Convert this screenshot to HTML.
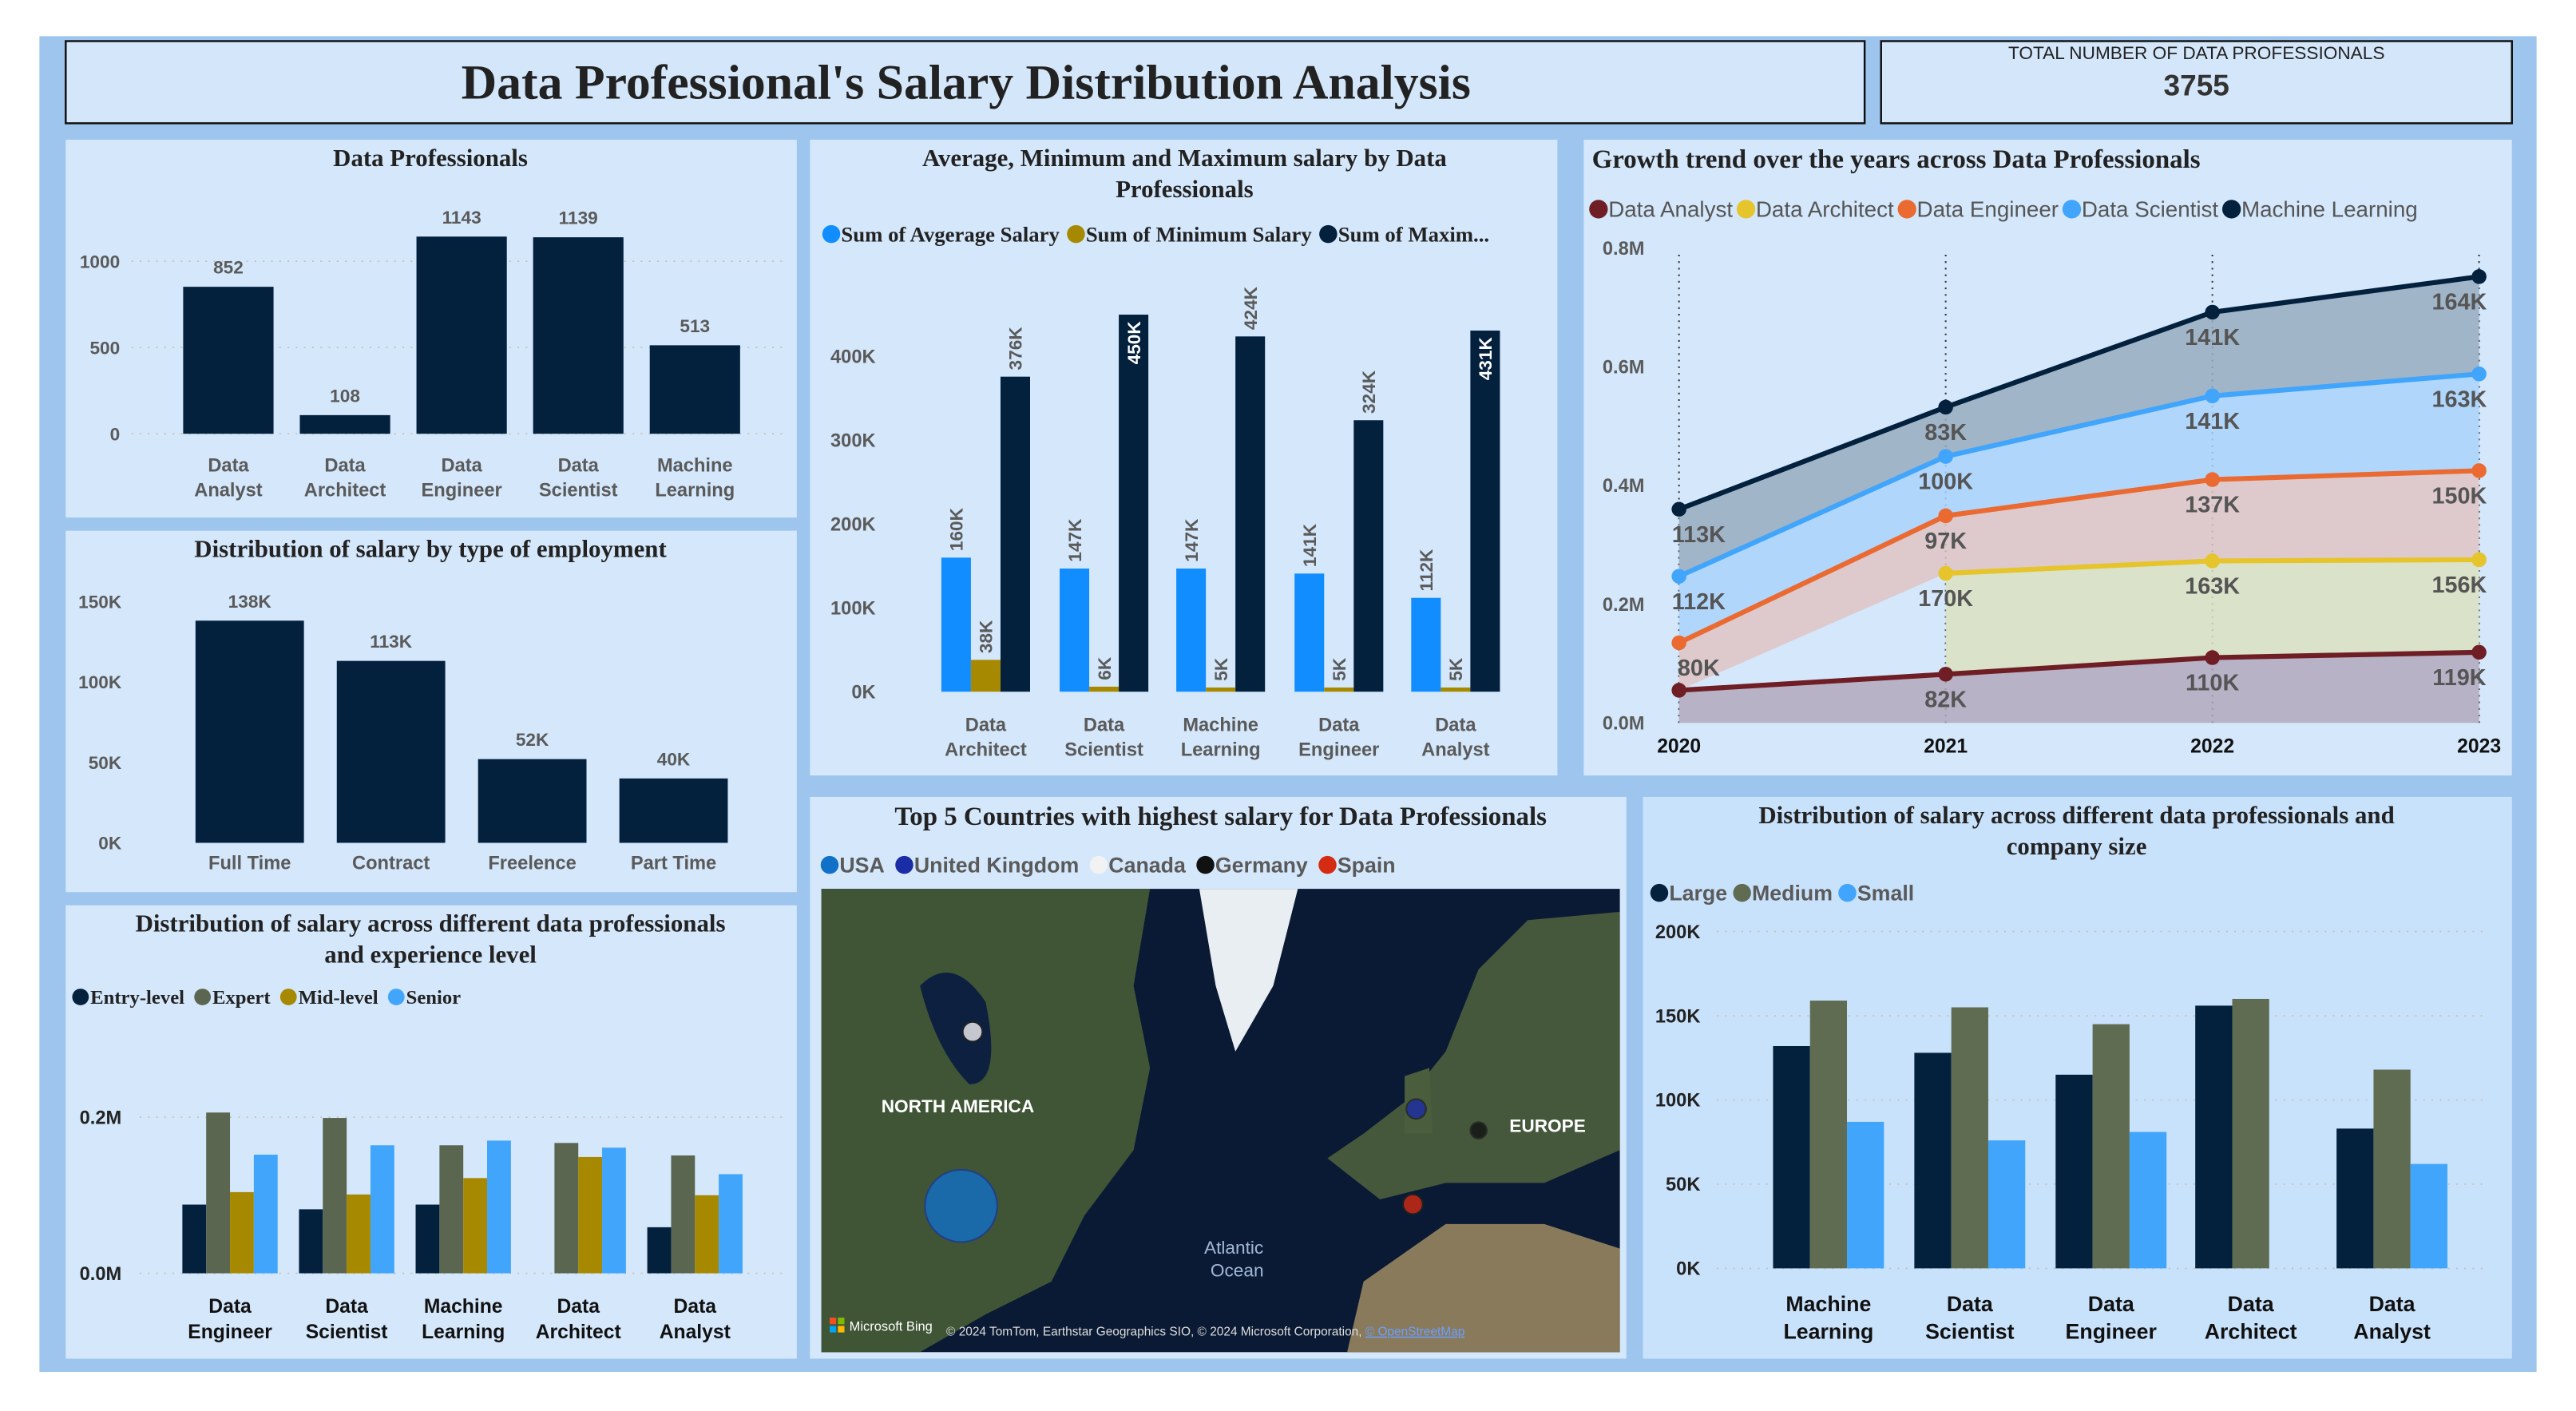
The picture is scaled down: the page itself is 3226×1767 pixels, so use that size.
<!DOCTYPE html>
<html><head><meta charset="utf-8"><style>
html,body{margin:0;padding:0;background:#fff;}
svg{display:block;}
.t{font-family:"Liberation Serif",serif;font-weight:bold;fill:#222;}
.a{font-family:"Liberation Sans",sans-serif;font-weight:bold;fill:#5a5a5a;}
.n{font-family:"Liberation Sans",sans-serif;fill:#555;}
</style></head><body>
<svg id="s" width="3226" height="1767" viewBox="0 0 1568 858.8" xmlns="http://www.w3.org/2000/svg">
<rect x="24" y="22" width="1520" height="813" fill="#9dc5ee"/>
<rect x="40" y="25" width="1095" height="50" fill="#d4e6fa" stroke="#111" stroke-width="1.2"/>
<text x="588" y="60" text-anchor="middle" class="t" font-size="30" fill="#000">Data Professional's Salary Distribution Analysis</text>
<rect x="1145" y="25" width="384" height="50" fill="#d4e6fa" stroke="#111" stroke-width="1.2"/>
<text x="1337" y="36" text-anchor="middle" font-family="Liberation Sans,sans-serif" font-size="11" fill="#222">TOTAL NUMBER OF DATA PROFESSIONALS</text>
<text x="1337" y="58" text-anchor="middle" font-family="Liberation Sans,sans-serif" font-weight="bold" font-size="18" fill="#333">3755</text>

<rect x="40" y="85" width="445" height="230" fill="#d4e7fb"/>
<rect x="40" y="323" width="445" height="220" fill="#d4e7fb"/>
<rect x="40" y="551" width="445" height="276" fill="#d4e7fb"/>
<rect x="493" y="85" width="455" height="387" fill="#d4e7fb"/>
<rect x="964" y="85" width="565" height="387" fill="#d4e7fb"/>
<rect x="493" y="485" width="497" height="342" fill="#d4e7fb"/>
<rect x="1000" y="485" width="529" height="342" fill="#c9e2fb"/>

<text x="262" y="101" text-anchor="middle" class="t" font-size="15">Data Professionals</text>
<text x="262" y="339" text-anchor="middle" class="t" font-size="15">Distribution of salary by type of employment</text>
<text x="262" y="567" text-anchor="middle" class="t" font-size="15">Distribution of salary across different data professionals</text>
<text x="262" y="586" text-anchor="middle" class="t" font-size="15">and experience level</text>
<text x="721" y="101" text-anchor="middle" class="t" font-size="15">Average, Minimum and Maximum salary by Data</text>
<text x="721" y="120" text-anchor="middle" class="t" font-size="15">Professionals</text>
<text x="969" y="102" class="t" font-size="16">Growth trend over the years across Data Professionals</text>
<text x="743" y="502" text-anchor="middle" class="t" font-size="16">Top 5 Countries with highest salary for Data Professionals</text>
<text x="1264" y="501" text-anchor="middle" class="t" font-size="15">Distribution of salary across different data professionals and</text>
<text x="1264" y="520" text-anchor="middle" class="t" font-size="15">company size</text>

<g id="map">
<rect x="500" y="541" width="486" height="282" fill="#0b1a34"/>
<path d="M500 541 L700 541 L690 600 L700 650 L690 700 L660 740 L640 780 L600 800 L560 823 L500 823 Z" fill="#3f5535"/>
<path d="M560 600 Q580 580 600 610 Q610 660 590 660 Q570 640 560 600Z" fill="#0e2040"/>
<path d="M730 541 L790 541 L775 600 L752 640 L740 600 Z" fill="#e9eef2"/>
<path d="M808 705 L830 690 L856 670 L880 640 L900 590 L930 560 L986 555 L986 700 L940 720 L880 720 L840 730 Z" fill="#46583c"/>
<path d="M830 780 L880 745 L940 745 L986 760 L986 823 L820 823 Z" fill="#8a7a5c"/>
<path d="M855 655 L870 650 L872 690 L855 690 Z" fill="#4a5e3e"/>
<text x="583" y="677" text-anchor="middle" font-family="Liberation Sans,sans-serif" font-weight="bold" font-size="11" fill="#fff">NORTH AMERICA</text>
<text x="942" y="689" text-anchor="middle" font-family="Liberation Sans,sans-serif" font-weight="bold" font-size="11" fill="#fff">EUROPE</text>
<text x="751" y="763" text-anchor="middle" font-family="Liberation Sans,sans-serif" font-size="11" fill="#9fb8d6">Atlantic</text>
<text x="753" y="777" text-anchor="middle" font-family="Liberation Sans,sans-serif" font-size="11" fill="#9fb8d6">Ocean</text>
<rect x="505" y="802" width="4" height="4" fill="#f25022"/>
<rect x="510" y="802" width="4" height="4" fill="#7fba00"/>
<rect x="505" y="807" width="4" height="4" fill="#00a4ef"/>
<rect x="510" y="807" width="4" height="4" fill="#ffb900"/>
<text x="517" y="810" font-family="Liberation Sans,sans-serif" font-size="8" fill="#fff">Microsoft Bing</text>
<text x="576" y="813" font-family="Liberation Sans,sans-serif" font-size="7.5" fill="#ddd">© 2024 TomTom, Earthstar Geographics SIO, © 2024 Microsoft Corporation, <tspan fill="#6aa0ff" text-decoration="underline">© OpenStreetMap</tspan></text>
</g>
<g id="g"></g>
</svg>
<script>
// ---- chart 1
const c1Cats=["Data|Analyst","Data|Architect","Data|Engineer","Data|Scientist","Machine|Learning"];
const c1Vals=[852,108,1143,1139,513];
const c1Ticks=[0,500,1000];
// ---- chart 2
const c2Cats=["Full Time","Contract","Freelence","Part Time"];
const c2Vals=[138,113,52,40];
const c2Ticks=[0,50,100,150];
// ---- chart 3
const c3Cats=["Data|Engineer","Data|Scientist","Machine|Learning","Data|Architect","Data|Analyst"];
const c3Series=["Entry-level","Expert","Mid-level","Senior"];
const c3Entry=[0.088,0.082,0.088,0,0.059];
const c3Expert=[0.206,0.199,0.164,0.167,0.151];
const c3Mid=[0.104,0.101,0.122,0.149,0.100];
const c3Senior=[0.152,0.164,0.170,0.161,0.127];
const c3Ticks=[0,0.2];
// ---- chart 4
const c4Cats=["Data|Architect","Data|Scientist","Machine|Learning","Data|Engineer","Data|Analyst"];
const c4Series=["Sum of Avgerage Salary","Sum of Minimum Salary","Sum of Maxim..."];
const c4Avg=[160,147,147,141,112];
const c4Min=[38,6,5,5,5];
const c4Max=[376,450,424,324,431];
const c4Ticks=[0,100,200,300,400];
// ---- chart 5
const c5Years=["2020","2021","2022","2023"];
const c5Series=["Data Analyst","Data Architect","Data Engineer","Data Scientist","Machine Learning"];
const c5Analyst=[55,82,110,119];
const c5Architect=[null,170,163,156];
const c5Engineer=[80,97,137,150];
const c5Scientist=[112,100,141,163];
const c5ML=[113,83,141,164];
const c5Ticks=[0,0.2,0.4,0.6,0.8];
// ---- map
const mapCountries=["USA","United Kingdom","Canada","Germany","Spain"];
// ---- chart 7
const c7Cats=["Machine|Learning","Data|Scientist","Data|Engineer","Data|Architect","Data|Analyst"];
const c7Series=["Large","Medium","Small"];
const c7Large=[132,128,115,156,83];
const c7Medium=[159,155,145,160,118];
const c7Small=[87,76,81,0,62];
const c7Ticks=[0,50,100,150,200];

const NS="http://www.w3.org/2000/svg";
const G=document.getElementById('g');
function el(tag,attrs,parent){const e=document.createElementNS(NS,tag);for(const k in attrs)e.setAttribute(k,attrs[k]);(parent||G).appendChild(e);return e;}
function txt(x,y,s,size,cls,anchor,fill){const e=el('text',{x:x,y:y,'font-size':size,'class':cls,'text-anchor':anchor||'middle'});if(fill)e.style.fill=fill;e.textContent=s;return e;}
function grid(x1,x2,y){const e=el('line',{x1:x1,x2:x2,y1:y,y2:y,stroke:'#c8c0b0','stroke-width':0.8,'stroke-dasharray':'1 4'});

}
function catLabel(x,y,c,size,fill){const p=c.split('|');p.forEach((s,i)=>{const t=txt(x,y+i*size*1.3,s,size,'a','middle',fill);

});}
function legend(x,y,items,colors,size,cls,gap){let cx=x;items.forEach((s,i)=>{const c=el('circle',{cx:cx+4,cy:y-size*0.35,r:size*0.42,fill:colors[i]});


const t=txt(cx+10,y,s,size,cls,'start');


cx+=10+t.getComputedTextLength()+gap;});}

// chart1
{const y0=264,k=(264-159)/1000,xs=[139,210,281,352,423],w=55;
c1Ticks.forEach(t=>{const y=y0-t*k;grid(80,480,y);const e=txt(73,y+4,String(t),11,'a','end');

});
c1Vals.forEach((v,i)=>{const r=el('rect',{x:xs[i]-w/2,y:y0-v*k,width:w,height:v*k,fill:'#03203d'});


const l=txt(xs[i],y0-v*k-8,String(v),11,'a');


catLabel(xs[i],287,c1Cats[i],11.5);});}

// chart2
{const y0=513,k=(513-366)/150,xs=[152,238,324,410],w=66;
c2Ticks.forEach(t=>{const y=y0-t*k;const e=txt(74,y+4,t+'K',11,'a','end');

});
c2Vals.forEach((v,i)=>{const r=el('rect',{x:xs[i]-w/2,y:y0-v*k,width:w,height:v*k,fill:'#03203d'});


const l=txt(xs[i],y0-v*k-8,v+'K',11,'a');


const c=txt(xs[i],529,c2Cats[i],11.5,'a');

});}

// chart3
{const y0=775,k=(775-680)/0.2,xs=[140,211,282,352,423],w=14.5;
const cols=['#03203d','#5a6650','#a68900','#41a5fb'];const ser=[c3Entry,c3Expert,c3Mid,c3Senior];
legend(45,611,c3Series,cols,12,'t',7);
c3Ticks.forEach(t=>{const y=y0-t*k;grid(85,480,y);const e=txt(74,y+4,t.toFixed(1)+'M',11.5,'a','end',"#222");

});
c3Cats.forEach((c,i)=>{ser.forEach((s,j)=>{const v=s[i];if(!v)return;const r=el('rect',{x:xs[i]-2*w+j*w,y:y0-v*k,width:w,height:v*k,fill:cols[j]});

});
catLabel(xs[i],799,c,12,'#111');});}

// chart4
{const y0=421,k=(421-217)/400,xs=[600,672,743,815,886],w=18;
const cols=['#118dff','#a68900','#03203d'];const ser=[c4Avg,c4Min,c4Max];
legend(502,147,c4Series,cols,13,'t',6);
c4Ticks.forEach(t=>{const y=y0-t*k;const e=txt(533,y+4,t+'K',11.5,'a','end');

});
c4Cats.forEach((c,i)=>{ser.forEach((s,j)=>{const v=s[i];const x=xs[i]-1.5*w+j*w;const r=el('rect',{x:x,y:y0-v*k,width:w,height:v*k,fill:cols[j]});


const inside=(j==2&&(v>=430));const ly=inside?y0-v*k+4:y0-v*k-4;
const t=el('text',{x:0,y:0,'font-size':11,'class':'a','text-anchor':inside?'end':'start',transform:'translate('+(x+w/2+4)+','+ly+') rotate(-90)'});
if(inside)t.style.fill='#fff';t.textContent=v+'K';

});
catLabel(xs[i],445,c,11.5);});}

// chart5
{const x0=1022,x1=1509,y0=440,k=(440-151)/800;const X=i=>x0+i*(x1-x0)/3;
const cols=['#6e1e24','#e6c42b','#ea6a31','#41a5fb','#03203d'];const fills=['#b3a8bd','#dbe0c0','#dfc4c3','#a9d2fb','#98acc0'];
const ser=[c5Analyst,c5Architect,c5Engineer,c5Scientist,c5ML];
legend(969,132,c5Series,cols,13.5,'n',4);
c5Ticks.forEach(t=>{const y=y0-t*1000*k;const e=txt(1001,y+4,t.toFixed(1)+'M',11.5,'a','end');

});
c5Years.forEach((yr,i)=>{const l=el('line',{x1:X(i),x2:X(i),y1:155,y2:y0,stroke:'#333','stroke-width':1,'stroke-dasharray':'1 3'});


const t=txt(X(i),458,yr,12,'a','middle','#111');

});
let base=[0,0,0,0];const tops=[];
ser.forEach((s,j)=>{const top=base.map((b,i)=>b+(s[i]||0));tops.push({base:base.slice(),top:top});base=top;});
tops.forEach((o,j)=>{const idx=[0,1,2,3].filter(i=>ser[j][i]!==null);
let d='';idx.forEach((i,n)=>{d+=(n?'L':'M')+X(i)+' '+(y0-o.top[i]*k)+' ';});
idx.slice().reverse().forEach(i=>{d+='L'+X(i)+' '+(y0-o.base[i]*k)+' ';});
const p=el('path',{d:d+'Z',fill:fills[j],opacity:0.85});

});
tops.forEach((o,j)=>{const idx=[0,1,2,3].filter(i=>ser[j][i]!==null);
const pts=idx.map(i=>X(i)+','+(y0-o.top[i]*k)).join(' ');
const pl=el('polyline',{points:pts,fill:'none',stroke:cols[j],'stroke-width':3});


idx.forEach(i=>{const c=el('circle',{cx:X(i),cy:y0-o.top[i]*k,r:4.5,fill:cols[j]});


if(j==0&&i==0)return;
const ly=y0-o.top[i]*k+20;const lx=i==3?X(i)-12:(i==0?X(i)+12:X(i));
const t=txt(lx,ly,ser[j][i]+'K',14,'a','middle','#555');

});});}

// map legend + bubbles
{const cols=['#1170c8','#1a2ca6','#f2f2f2','#111','#d52b12'];
legend(501,531,mapCountries,cols,13,'a',8);
const bubbles=[[585,734,22],[862,675,6],[592,628,6],[900,688,5],[860,733,6]];
bubbles.forEach((b,i)=>{const c=el('circle',{cx:b[0],cy:b[1],r:b[2],fill:cols[i],opacity:0.8,stroke:i==0?'#1a3a9a':'#222','stroke-width':1});

});}

// chart7
{const y0=772,k=(772-567)/200,xs=[1113,1199,1285,1370,1456],w=22.5;
const cols=['#03203d','#5f6c52','#41a5fb'];const ser=[c7Large,c7Medium,c7Small];
legend(1006,548,c7Series,cols,13,'a',5);
c7Ticks.forEach(t=>{const y=y0-t*k;grid(1045,1515,y);const e=txt(1035,y+4,t+'K',11.5,'a','end','#222');

});
c7Cats.forEach((c,i)=>{ser.forEach((s,j)=>{const v=s[i];if(!v)return;const r=el('rect',{x:xs[i]-1.5*w+j*w,y:y0-v*k,width:w,height:v*k,fill:cols[j]});

});
catLabel(xs[i],798,c,13,'#111');});}
</script>
</body></html>
